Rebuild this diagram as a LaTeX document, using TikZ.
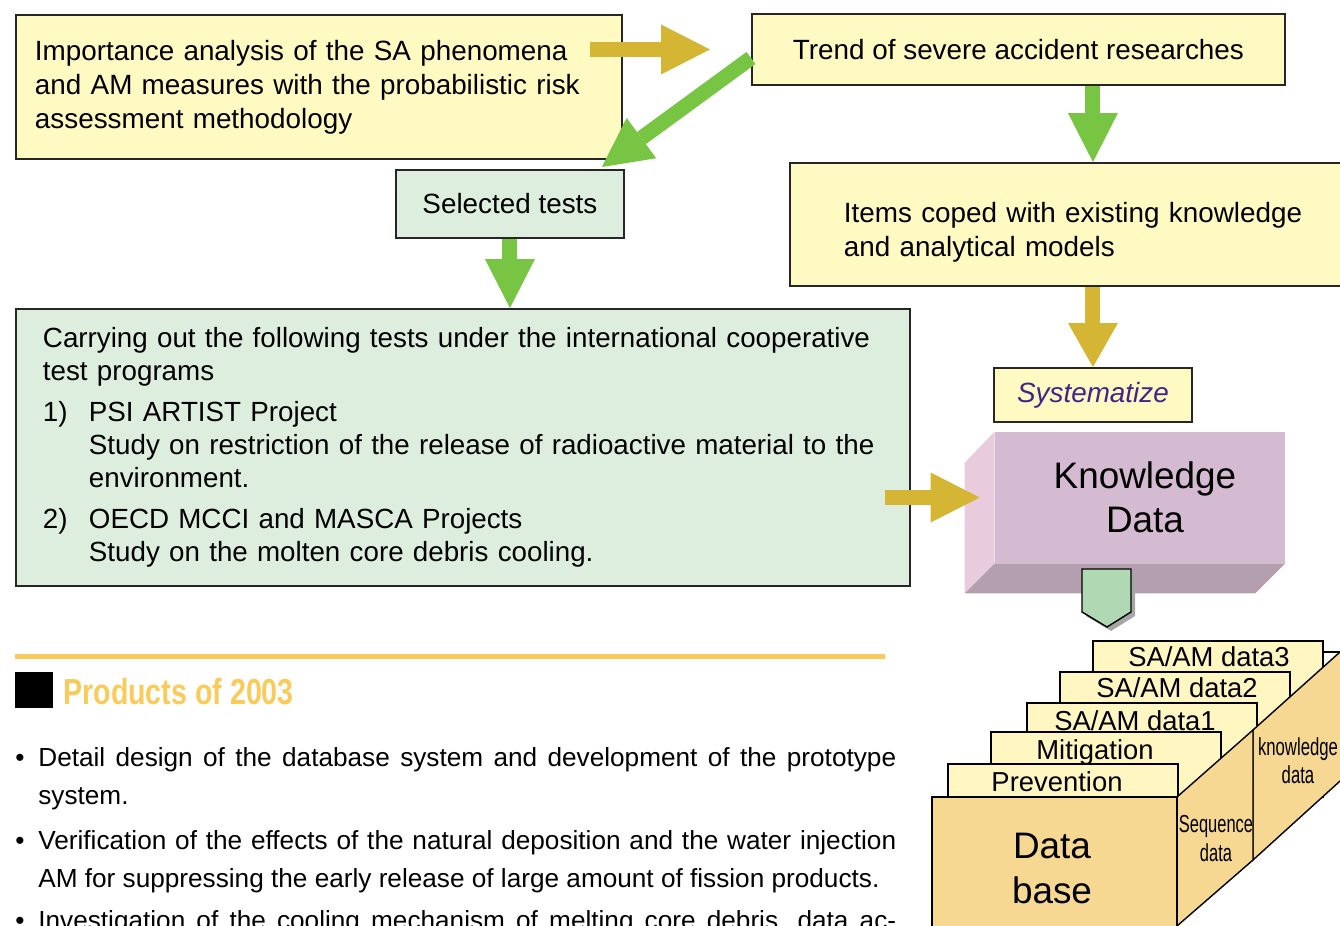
\documentclass[tikz,border=0pt]{standalone}
\usepackage{fontspec}
\setmainfont{Liberation Sans}
\usepackage{graphicx}
\usepackage{tikz}
\usetikzlibrary{calc,arrows.meta,positioning}

\definecolor{boxyellow}{HTML}{FFF9C2}
\definecolor{boxgreen}{HTML}{DDEEDF}
\definecolor{arrowgold}{HTML}{D4B634}
\definecolor{arrowgreen}{HTML}{78C443}
\definecolor{facefront}{HTML}{D4BBD2}
\definecolor{faceleft}{HTML}{E8CCDD}
\definecolor{facebottom}{HTML}{B49FB1}
\definecolor{pentgreen}{HTML}{B0D8B3}
\definecolor{tabyellow}{HTML}{FFF6C2}
\definecolor{paneltan}{HTML}{F6D892}
\definecolor{prodorange}{HTML}{F8CB5A}
\definecolor{sysviolet}{HTML}{45228A}

\newcommand{\mainsize}{\fontsize{15.85}{19.3}\selectfont}
\newcommand{\testsize}{\fontsize{15.8}{18.8}\selectfont}
\newcommand{\bigsize}{\fontsize{21}{25}\selectfont}
\newcommand{\tabsize}{\fontsize{15.6}{18}\selectfont}
\newcommand{\narrowsize}{\fontsize{14}{16}\selectfont}
\newcommand{\listsize}{\fontsize{14.9}{18}\selectfont}

\tikzset{
	ybox/.style={draw=black!85, line width=1.1pt, fill=boxyellow, anchor=north west, inner sep=0pt, font=\mainsize},
	gbox/.style={ybox, fill=boxgreen},
	goldarrow/.style={draw=arrowgold, line width=0.3cm, -{Triangle[width=1cm,length=0.98cm,line width=0pt]}},
	greenarrow/.style={goldarrow, draw=arrowgreen},
	tabbox/.style={draw=black, line width=0.8pt, fill=tabyellow},
	panel/.style={draw=black, line width=0.8pt, fill=paneltan},
	tablabel/.style={anchor=base, inner sep=0pt, font=\tabsize},
	listline/.style={anchor=base west, inner sep=0pt, font=\listsize}
}

\begin{document}
\begin{tikzpicture}[x=0.02cm, y=-0.02cm]
		%%%%% START %%%%%
		\useasboundingbox (0,0) rectangle (1340,926);
		
		\node[ybox, minimum width=12.12cm, minimum height=2.88cm, text width=11.36cm, inner xsep=0.38cm, align=left] (imp) at (15,14) {Importance analysis of the SA phenomena\\and AM measures with the probabilistic risk\\assessment methodology};
		\node[ybox, minimum width=10.66cm, minimum height=1.42cm] (trend) at (751,13) {Trend of severe accident researches};
		\node[gbox, minimum width=4.56cm, minimum height=1.36cm] (sel) at (395,169) {Selected tests};
		\node[ybox, minimum height=2.46cm, text width=9.6cm, inner xsep=1.08cm, align=left] (items) at (789,162) {\rule{0pt}{0.73cm}Items coped with existing knowledge\\and analytical models};
		\node[ybox, minimum width=3.96cm, minimum height=1.08cm, text=sysviolet, font=\mainsize\itshape] (sys) at (993,367) {Systematize};
		
		\node[gbox, minimum width=17.88cm, minimum height=5.54cm, text width=16.8cm, inner xsep=0.54cm, align=left, font=\testsize] (tests) at (15,308) {Carrying out the following tests under the international cooperative\\
			test programs\\[0.16cm]
			\makebox[0.92cm][l]{1)}PSI ARTIST Project\\
			\hspace*{0.92cm}\mbox{Study on restriction of the release of radioactive material to the}\\
			\hspace*{0.92cm}environment.\\[0.16cm]
			\makebox[0.92cm][l]{2)}OECD MCCI and MASCA Projects\\
			\hspace*{0.92cm}Study on the molten core debris cooling.};
		
		% knowledge block
		\node[fill=facefront, minimum width=5.8cm, minimum height=2.62cm, inner sep=0pt, align=center, font=\bigsize] (know) at (1140,497.5) {\hspace*{0.2cm}Knowledge\\\hspace*{0.2cm}Data};
		\fill[faceleft] (know.north west) -- ++(-30,31) -- ($(know.south west)+(-30,30)$) -- (know.south west) -- cycle;
		\fill[facebottom] (know.south west) -- (know.south east) -- ++(-30,30) -- ($(know.south west)+(-30,30)$) -- cycle;
		
		\fill[black!35] (1086,573) -- (1135,573) -- (1135,616) -- (1111,631) -- (1086,616) -- cycle;
		\filldraw[fill=pentgreen, draw=black, line width=0.8pt] (1082,569) -- (1131,569) -- (1131,612) -- (1107,627) -- (1082,612) -- cycle;
		
		% data base stack
		\draw[line width=0.8pt] (1300,652) -- (1345,652);
		\draw[tabbox] (1093,641) rectangle (1323,797);
		\draw[tabbox] (1060,672) rectangle (1290,797);
		\draw[tabbox] (1027,703) rectangle (1257,797);
		\draw[tabbox] (991,732) rectangle (1221,797);
		\draw[tabbox] (948,764) rectangle (1178,797);
		\draw[panel] (1253,730) -- (1340,652) -- (1350,652) -- (1350,772) -- (1253,860) -- cycle;
		\draw[panel] (1177,797) -- (1253,730) -- (1253,860) -- (1177,926) -- cycle;
		\draw[panel] (932,797) rectangle (1177,940);
		
		\node[tablabel] (tab3) at (1209,666) {SA/AM data3};
		\node[tablabel] (tab2) at (1177,697) {SA/AM data2};
		\node[tablabel] (tab1) at (1135,730) {SA/AM data1};
		\node[tablabel] (tabmit) at (1095,759) {Mitigation};
		\node[tablabel] (tabprev) at (1057,791) {Prevention};
		\node[anchor=base, inner sep=0pt, font=\bigsize] (dbtop) at (1052,858) {Data};
		\node[anchor=base, inner sep=0pt, font=\bigsize] (dbbot) at (1052,903) {base};
		\node[anchor=base, inner sep=0pt, font=\narrowsize] (seqa) at (1216,832) {\scalebox{0.67}[1]{Sequence}};
		\node[anchor=base, inner sep=0pt, font=\narrowsize] (seqb) at (1216,861) {\scalebox{0.67}[1]{data}};
		\node[anchor=base, inner sep=0pt, font=\narrowsize] (kna) at (1298,755) {\scalebox{0.68}[1]{knowledge}};
		\node[anchor=base, inner sep=0pt, font=\narrowsize] (knb) at (1298,783) {\scalebox{0.68}[1]{data}};
		
		% products of 2003
		\draw[line width=0.1cm, prodorange] (15,656) -- (885,656);
		\fill[black] (15,672) rectangle (53,708);
		\node[anchor=base west, inner sep=0pt, text=prodorange, font=\fontsize{20.6}{24}\selectfont\bfseries] (prodhead) at (63,704) {\scalebox{0.79}[1]{Products of 2003}};
		
		\node[listline] (dot1) at (15,766) {\textbullet};
		\node[listline] (line1a) at (38,766) {\makebox[17.16cm][s]{Detail design of the database system and development of the prototype}};
		\node[listline] (line1b) at (38,804) {system.};
		\node[listline] (dot2) at (15,849) {\textbullet};
		\node[listline] (line2a) at (38,849) {\makebox[17.16cm][s]{Verification of the effects of the natural deposition and the water injection}};
		\node[listline] (line2b) at (38,887) {AM for suppressing the early release of large amount of fission products.};
		\node[listline] (dot3) at (15,929) {\textbullet};
		\node[listline] (line3a) at (38,929) {\makebox[17.16cm][s]{Investigation of the cooling mechanism of melting core debris, data ac-}};
		
		% arrows
		\draw[goldarrow, shorten <=-0.66cm, shorten >=0.82cm] (imp.east |- trend.west) -- (trend.west);
		\coordinate (gstart) at ($(trend.west)+(0,8.5)$);
		\coordinate (gtip) at ($(sel.north east)+(-23,-2)$);
		\draw[greenarrow] (gstart) -- (gtip);
		\draw[greenarrow] (sel.south) -- (sel.south |- tests.north);
		\draw[greenarrow] (trend.south -| sys.north) -- (items.north -| sys.north);
		\draw[goldarrow, -{Triangle[width=1cm,length=0.88cm,line width=0pt]}] (items.south -| sys.north) -- (sys.north);
		\draw[goldarrow, shorten <=-0.52cm, shorten >=0.3cm] (tests.east |- know.west) -- (know.west);
		
		%%%%% END %%%%%
	\end{tikzpicture}
\end{document}
